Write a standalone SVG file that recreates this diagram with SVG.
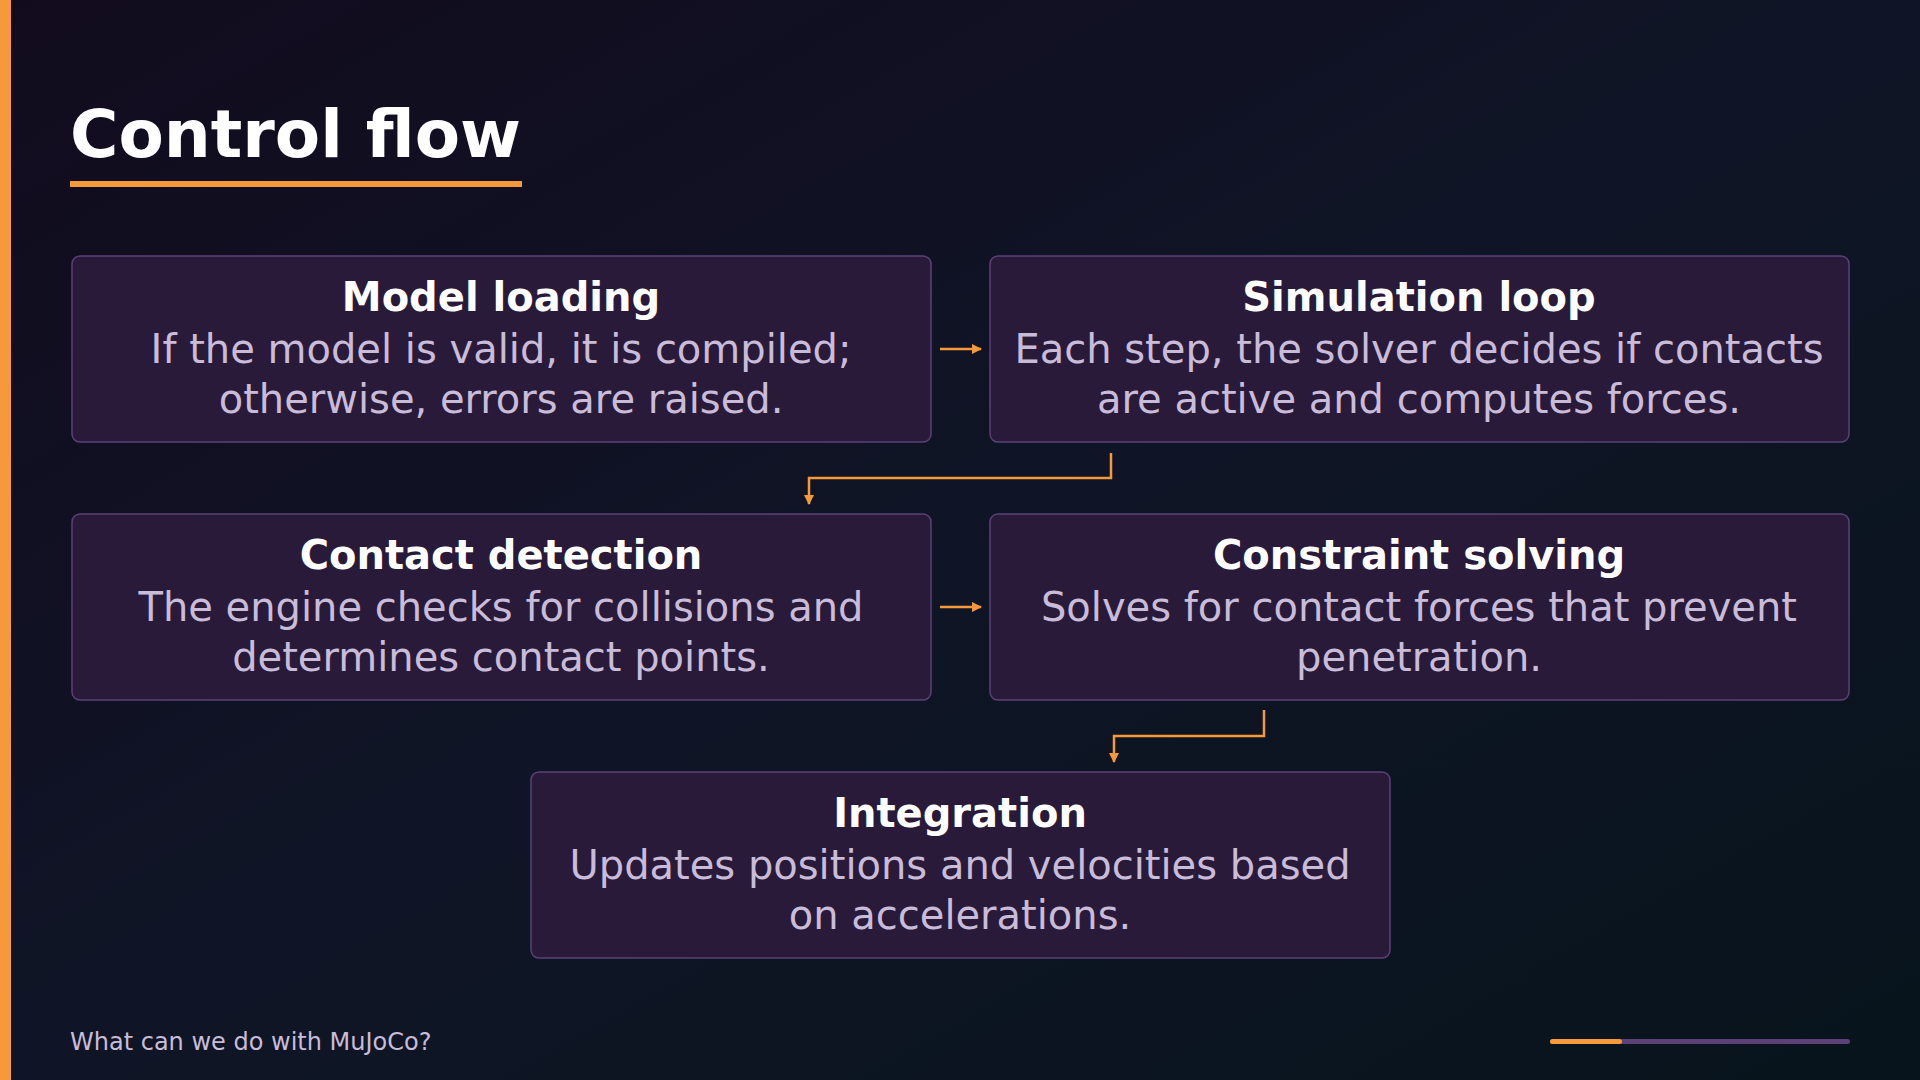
<svg xmlns="http://www.w3.org/2000/svg" width="1920" height="1080" viewBox="0 0 1920 1080">
<defs>
<linearGradient id="bg" x1="0" y1="0" x2="1" y2="1"><stop offset="0" stop-color="#120b1e"/><stop offset="0.5" stop-color="#0f1526"/><stop offset="1" stop-color="#08141c"/></linearGradient>
<marker id="ah" viewBox="0 0 10 10" refX="9" refY="5" markerWidth="10" markerHeight="10" markerUnits="userSpaceOnUse" orient="auto"><path d="M0,0 L10,5 L0,10 z" fill="#f5993a"/></marker>
<style>
.box{fill:#2a1a3a;stroke:#5c4078;stroke-width:1.5}
.t{font-family:"DejaVu Sans",sans-serif;font-weight:bold;font-size:40px;fill:#ffffff;text-anchor:middle}
.b{font-family:"DejaVu Sans",sans-serif;font-size:40px;fill:#c9bcd9;text-anchor:middle}
.c{fill:none;stroke:#f5993a;stroke-width:2.5;marker-end:url(#ah)}
</style>
</defs>
<rect width="1920" height="1080" fill="url(#bg)"/>
<rect x="0" y="0" width="11" height="1080" fill="#f5993a"/>
<text x="70" y="157" font-family="DejaVu Sans,sans-serif" font-weight="bold" font-size="66" fill="#ffffff">Control flow</text>
<rect x="70" y="181" width="452" height="6" fill="#f5993a"/>
<g id="n1"><rect class="box" x="72" y="256" width="859" height="186" rx="8"/><text class="t" x="501" y="311">Model loading</text><text class="b" x="501" y="363">If the model is valid, it is compiled;</text><text class="b" x="501" y="413">otherwise, errors are raised.</text></g>
<g id="n2"><rect class="box" x="990" y="256" width="859" height="186" rx="8"/><text class="t" x="1419" y="311">Simulation loop</text><text class="b" x="1419" y="363">Each step, the solver decides if contacts</text><text class="b" x="1419" y="413">are active and computes forces.</text></g>
<g id="n3"><rect class="box" x="72" y="514" width="859" height="186" rx="8"/><text class="t" x="501" y="569">Contact detection</text><text class="b" x="501" y="621">The engine checks for collisions and</text><text class="b" x="501" y="671">determines contact points.</text></g>
<g id="n4"><rect class="box" x="990" y="514" width="859" height="186" rx="8"/><text class="t" x="1419" y="569">Constraint solving</text><text class="b" x="1419" y="621">Solves for contact forces that prevent</text><text class="b" x="1419" y="671">penetration.</text></g>
<g id="n5"><rect class="box" x="531" y="772" width="859" height="186" rx="8"/><text class="t" x="960" y="827">Integration</text><text class="b" x="960" y="879">Updates positions and velocities based</text><text class="b" x="960" y="929">on accelerations.</text></g>
<g id="connectors">
<path class="c" d="M940,349 H981"/>
<path class="c" d="M940,607 H981"/>
<path class="c" d="M1111,453 V478 H809 V504"/>
<path class="c" d="M1264,710 V736 H1114 V762"/>
</g>
<text x="70" y="1050" font-family="DejaVu Sans,sans-serif" font-size="24" fill="#c9bcd9">What can we do with MuJoCo?</text>
<rect x="1550" y="1039" width="300" height="5" rx="2.5" fill="#5c4078"/>
<rect x="1550" y="1039" width="72" height="5" rx="2.5" fill="#f5993a"/>
</svg>
